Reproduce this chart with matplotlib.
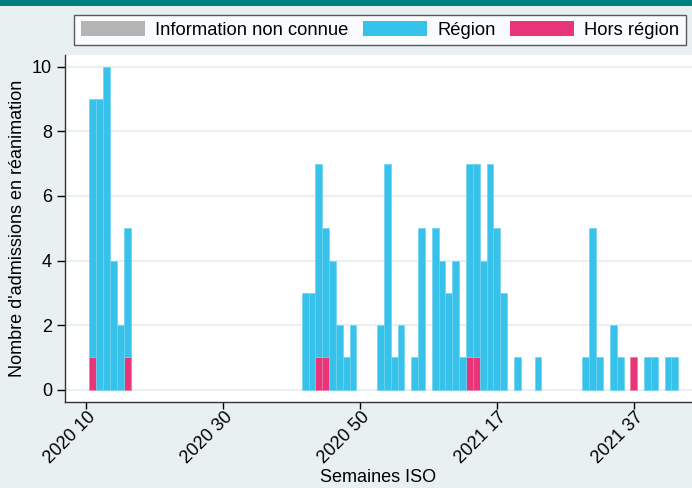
import matplotlib.pyplot as plt
from matplotlib.patches import Patch, Rectangle
from matplotlib.transforms import ScaledTranslation

plt.rcParams["font.family"] = ["Liberation Sans", "DejaVu Sans"]

# ISO weeks from 2020 W10 to 2021 W43 (2020 has 53 ISO weeks)
WEEKS = [f"2020 {w}" for w in range(10, 54)] + [f"2021 {w}" for w in range(1, 44)]

# admissions per week, patients living in the region
REGION = [
    0, 8, 9, 10, 4, 2, 4, 0, 0, 0,        # 2020 W10-W19
    0, 0, 0, 0, 0, 0, 0, 0, 0, 0,         # 2020 W20-W29
    0, 0, 0, 0, 0, 0, 0, 0, 0, 0,         # 2020 W30-W39
    0, 0, 3, 3, 6, 4, 4, 2, 1, 2,         # 2020 W40-W49
    0, 0, 0, 2,                           # 2020 W50-W53
    7, 1, 2, 0, 1, 5, 0, 5, 4, 3,         # 2021 W1-W10
    4, 1, 6, 6, 4, 7, 5, 3, 0, 1,         # 2021 W11-W20
    0, 0, 1, 0, 0, 0, 0, 0, 0, 1,         # 2021 W21-W30
    5, 1, 0, 2, 1, 0, 0, 0, 1, 1,         # 2021 W31-W40
    0, 1, 1,                              # 2021 W41-W43
]
# admissions per week, patients from outside the region
HORS_REGION = [
    0, 1, 0, 0, 0, 0, 1, 0, 0, 0,
    0, 0, 0, 0, 0, 0, 0, 0, 0, 0,
    0, 0, 0, 0, 0, 0, 0, 0, 0, 0,
    0, 0, 0, 0, 1, 1, 0, 0, 0, 0,
    0, 0, 0, 0,
    0, 0, 0, 0, 0, 0, 0, 0, 0, 0,
    0, 0, 1, 1, 0, 0, 0, 0, 0, 0,
    0, 0, 0, 0, 0, 0, 0, 0, 0, 0,
    0, 0, 0, 0, 0, 0, 1, 0, 0, 0,
    0, 0, 0,
]
# no admission with unknown origin
INCONNUE = [0] * len(WEEKS)

TICK_WEEKS = ["2020 10", "2020 30", "2020 50", "2021 17", "2021 37"]

C_REGION = "#36c2ea"
C_HORS = "#e8357a"
C_INCONNUE = "#b4b4b4"
BG = "#e9f0f2"


def stacked_bar(ax, values, bottoms, **kwargs):
    # skip empty weeks so no edge line is drawn on the baseline
    keep = [i for i, v in enumerate(values) if v > 0]
    if not keep:
        return
    ax.bar(keep, [values[i] for i in keep], bottom=[bottoms[i] for i in keep],
           width=1.0, zorder=3, **kwargs)


def main():
    fig = plt.figure(figsize=(6.92, 4.88), dpi=100)
    fig.patch.set_facecolor(BG)
    fig.patches.append(Rectangle((0, 1 - 6 / 488), 1, 6 / 488, transform=fig.transFigure,
                                 facecolor="#007f80", edgecolor="none"))

    ax = fig.add_axes([64.5 / 692, 86.5 / 488, 1 - 64.5 / 692, 346.5 / 488])
    ax.set_facecolor("white")

    zeros = [0] * len(WEEKS)
    bottom_inconnue = [h + r for h, r in zip(HORS_REGION, REGION)]
    stacked_bar(ax, HORS_REGION, zeros, color=C_HORS, edgecolor="#f07aa6", linewidth=0.5)
    stacked_bar(ax, REGION, HORS_REGION, color=C_REGION, edgecolor="#6fd3f0", linewidth=0.5)
    stacked_bar(ax, INCONNUE, bottom_inconnue, color=C_INCONNUE, edgecolor="none")

    ax.set_xlim(-3.14, 88.5)
    ax.set_ylim(-0.37, 10.37)
    ax.set_yticks(range(0, 11, 2))
    ax.yaxis.grid(True, color="#e9f0f2", linewidth=1.5, zorder=0)
    ax.tick_params(axis="y", labelsize=13, length=6, width=1, pad=3)

    ax.set_xticks([WEEKS.index(w) for w in TICK_WEEKS])
    ax.set_xticklabels(TICK_WEEKS, rotation=45, ha="right", va="center",
                       rotation_mode="anchor")
    ax.tick_params(axis="x", labelsize=13, length=5.3, width=1, pad=4.3)
    # shift rotated labels a bit to the right of their tick
    shift = ScaledTranslation(7 / 100, 0, fig.dpi_scale_trans)
    for label in ax.get_xticklabels():
        label.set_transform(label.get_transform() + shift)

    for side in ["top", "right"]:
        ax.spines[side].set_visible(False)
    for side in ["left", "bottom"]:
        ax.spines[side].set_color("#333333")
        ax.spines[side].set_linewidth(1)

    ax.set_ylabel("Nombre d'admissions en réanimation", fontsize=13, labelpad=4)
    ax.set_xlabel("Semaines ISO", fontsize=13, va="bottom")
    ax.xaxis.set_label_coords(0.5, (1.5 - 86.5) / 346.5)

    handles = [
        Patch(facecolor=C_INCONNUE, edgecolor="none", label="Information non connue"),
        Patch(facecolor=C_REGION, edgecolor="none", label="Région"),
        Patch(facecolor=C_HORS, edgecolor="none", label="Hors région"),
    ]
    leg = fig.legend(handles=handles, loc="center", bbox_to_anchor=(380 / 692, 1 - 30 / 488),
                     ncol=3, fontsize=13.2, frameon=True, fancybox=False,
                     handlelength=3.5, handleheight=0.9, handletextpad=0.55,
                     columnspacing=0.8, borderpad=0.35, borderaxespad=0)
    leg.get_frame().set_edgecolor("#333333")
    leg.get_frame().set_linewidth(1)

    fig.savefig("out.png", dpi=100, facecolor=fig.get_facecolor())
    plt.close(fig)


if __name__ == "__main__":
    main()
